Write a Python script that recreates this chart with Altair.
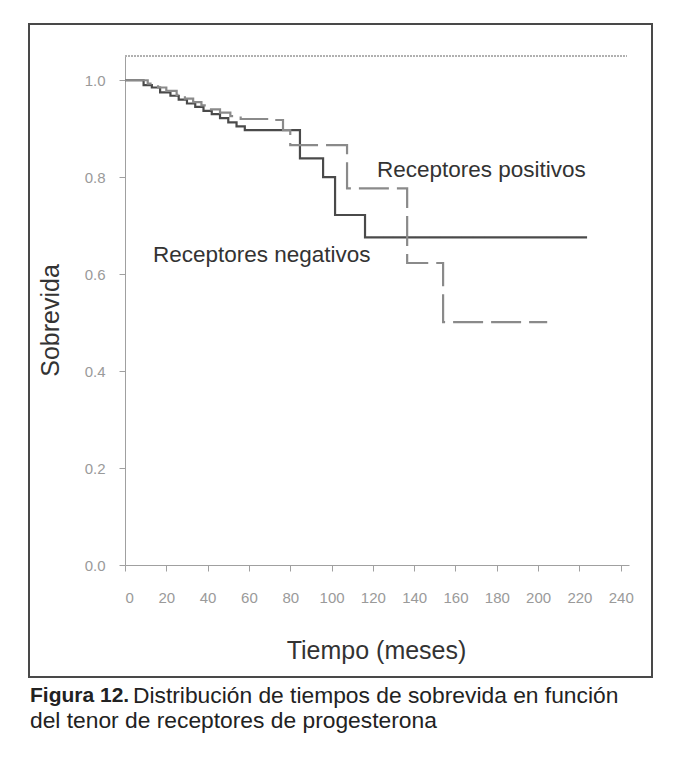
import altair as alt
import pandas as pd

# Receptores negativos (solid)
neg_t = [0, 9, 13, 17, 22, 26, 30, 34, 38, 42, 46, 50, 54, 58, 84.7, 95.9, 101.7, 116.2, 223.7]
neg_s = [1.0, 0.99, 0.985, 0.975, 0.968, 0.96, 0.952, 0.945, 0.937, 0.93, 0.922, 0.913, 0.905, 0.897, 0.839, 0.80, 0.722, 0.676, 0.676]

# Receptores positivos (dashed)
pos_t = [0, 11, 16, 20, 25, 29, 33, 37, 41, 46, 51, 56, 70, 76.5, 80, 107.5, 136.6, 154, 204.4]
pos_s = [1.0, 0.993, 0.985, 0.978, 0.97, 0.962, 0.955, 0.948, 0.94, 0.933, 0.926, 0.92, 0.918, 0.897, 0.866, 0.777, 0.623, 0.501, 0.501]

x_ticks = [0, 20, 40, 60, 80, 100, 120, 140, 160, 180, 200, 220, 240]
y_ticks = [0.0, 0.2, 0.4, 0.6, 0.8, 1.0]

label_text = ["Receptores  positivos", "Receptores  negativos"]
label_x = [122, 13.5]
label_y = [0.814, 0.639]

caption_bold = "Figura 12."
caption_1 = "Distribución de tiempos de sobrevida en función"
caption_2 = "del tenor de receptores de progesterona"

W, H = 504, 509
PL, PT = 117, 48

df = pd.concat([
    pd.DataFrame({"t": neg_t, "s": neg_s, "g": "neg"}),
    pd.DataFrame({"t": pos_t, "s": pos_s, "g": "pos"}),
])

xs = alt.Scale(domain=[0, 244], nice=False, zero=False)
ys = alt.Scale(domain=[0, 1.05], nice=False)

lines = alt.Chart(df).mark_line(interpolate="step-after", strokeWidth=2.2).encode(
    x=alt.X("t:Q", scale=xs, axis=alt.Axis(
        values=x_ticks, title="Tiempo  (meses)", titleX=251, titleY=85,
        titleBaseline="middle", titleAnchor=None)),
    y=alt.Y("s:Q", scale=ys, axis=alt.Axis(
        values=y_ticks, format=".1f", title="Sobrevida", titleX=-75, titleY=264,
        titleAngle=-90, titleAlign="center", titleBaseline="middle")),
    color=alt.Color("g:N", scale=alt.Scale(domain=["neg", "pos"], range=["#4a4a4a", "#8a8a8a"]), legend=None),
    strokeDash=alt.StrokeDash("g:N", scale=alt.Scale(domain=["neg", "pos"], range=[[1, 0], [30, 8]]), legend=None),
)

top_rule = alt.Chart(df).mark_rule(color="#b0b0b0", strokeWidth=1, strokeDash=[2, 1]).encode(
    x=alt.value(0), x2=alt.value(W - 2), y=alt.value(0)
)

labels = alt.Chart(pd.DataFrame({"txt": label_text, "x": label_x, "y": label_y})).mark_text(
    align="left", baseline="middle", fontSize=22.5, font="Liberation Sans", color="#333333"
).encode(x=alt.X("x:Q", scale=xs), y=alt.Y("y:Q", scale=ys), text="txt:N")

frame = alt.Chart(df).mark_rect(filled=False, stroke="#4a4a4a", strokeWidth=1.5).encode(
    x=alt.value(29 - 125), x2=alt.value(652 - 125), y=alt.value(24 - 56), y2=alt.value(677 - 56)
)

cap_b = alt.Chart(pd.DataFrame({"txt": [caption_bold]})).mark_text(
    align="left", baseline="middle", fontSize=21, font="Liberation Sans", fontWeight="bold", color="#222222"
).encode(x=alt.value(30 - 125), y=alt.value(696 - 56), text="txt:N")

cap_1 = alt.Chart(pd.DataFrame({"txt": [caption_1]})).mark_text(
    align="left", baseline="middle", fontSize=22.8, font="Liberation Sans", color="#222222"
).encode(x=alt.value(133 - 125), y=alt.value(696 - 56), text="txt:N")

cap_2 = alt.Chart(pd.DataFrame({"txt": [caption_2]})).mark_text(
    align="left", baseline="middle", fontSize=22.8, font="Liberation Sans", color="#222222"
).encode(x=alt.value(30 - 125), y=alt.value(721 - 56), text="txt:N")

chart = alt.layer(frame, top_rule, lines, labels, cap_b, cap_1, cap_2).properties(
    width=W, height=H,
    autosize=alt.AutoSizeParams(type="none"),
    padding={"left": PL, "top": PT, "right": 37, "bottom": 180},
    background="white",
).configure_view(stroke=None).configure_axis(
    grid=False, domainColor="#a0a0a0", tickColor="#a0a0a0", tickSize=6,
    labelColor="#9a9a9a", labelFont="Liberation Sans", labelFontSize=15,
    titleFont="Liberation Sans", titleFontSize=25, titleFontWeight="normal", titleColor="#333333",
).configure_axisX(labelPadding=19).configure_axisY(labelPadding=14)

chart.save("out.html", embed_options={"renderer": "svg", "actions": False})
